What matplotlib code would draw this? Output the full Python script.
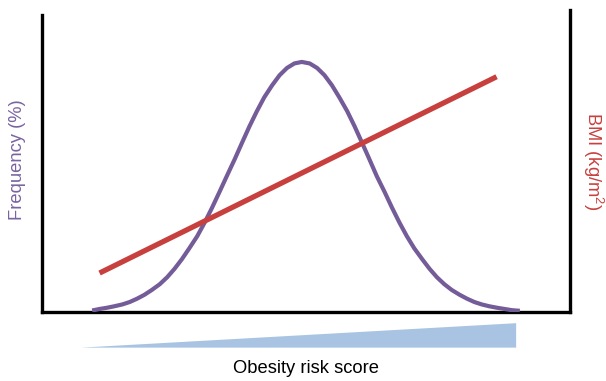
import matplotlib.pyplot as plt

plt.rcParams['font.family'] = ['Liberation Sans', 'DejaVu Sans']
plt.rcParams['mathtext.default'] = 'regular'

# distribution of the risk score (frequency, %)
score = [9.5, 10.9, 12.3, 13.7, 15.2, 16.6, 18.0, 19.4, 20.8, 22.3, 23.7, 25.1, 26.5, 27.9,
         29.4, 30.8, 32.2, 33.6, 35.0, 36.5, 37.9, 39.3, 40.7, 42.1, 43.6, 45.0, 46.4, 47.8,
         49.2, 50.7, 52.1, 53.5, 54.9, 56.3, 57.8, 59.2, 60.6, 62.0, 63.4, 64.9, 66.3, 67.7,
         69.1, 70.5, 72.0, 73.4, 74.8, 76.2, 77.6, 79.1, 80.5, 81.9, 83.3, 84.7, 86.2, 87.6,
         89.0, 90.5]
freq = [0.5, 1.0, 1.4, 1.9, 2.5, 3.3, 4.4, 5.7, 7.3, 9.2, 11.5, 14.3, 17.5, 21.1,
        25.1, 29.6, 34.5, 39.7, 45.0, 50.6, 56.1, 61.5, 66.5, 71.1, 75.1, 78.4, 80.8, 82.3,
        82.8, 82.3, 80.8, 78.4, 75.1, 71.1, 66.5, 61.5, 56.1, 50.6, 45.0, 39.7, 34.5, 29.6,
        25.1, 21.1, 17.5, 14.3, 11.5, 9.2, 7.3, 5.7, 4.4, 3.3, 2.5, 1.9, 1.4, 1.0,
        0.6, 0.4]

# BMI trend
bmi_x = [10.9, 86.1]
bmi_y = [12.9, 77.9]

# risk wedge under the axis
wedge_x = [7.4, 89.8, 89.8]
wedge_y = [-11.8, -3.7, -11.8]

purple = '#745c99'
red = '#c8403e'

fig = plt.figure(figsize=(6.06, 3.81), dpi=100)
ax = fig.add_axes([0.0693, 0.1811, 0.8713, 0.7927])
ax.set_xlim(0, 100)
ax.set_ylim(0, 100)

ax.plot(score, freq, color=purple, linewidth=3, solid_capstyle='butt',
        solid_joinstyle='round', zorder=3)

ax2 = ax.twinx()
ax2.set_ylim(0, 100)
ax2.plot(bmi_x, bmi_y, color=red, linewidth=3.8, solid_capstyle='butt', zorder=4)

ax.fill(wedge_x, wedge_y, color='#a9c4e2', clip_on=False, linewidth=0)

for a in (ax, ax2):
    a.set_xticks([])
    a.set_yticks([])
    for s in a.spines.values():
        s.set_visible(False)

ax.spines['left'].set_visible(True)
ax.spines['bottom'].set_visible(True)
ax2.spines['right'].set_visible(True)
for s in (ax.spines['left'], ax.spines['bottom'], ax2.spines['right']):
    s.set_linewidth(2.4)
    s.set_color('black')
ax.spines['left'].set_bounds(0, 98.3)

fig.text(0.029, 0.58, 'Frequency (%)', rotation=90, color='#7a64a0', fontsize=13.2,
         ha='center', va='center')
fig.text(0.979, 0.577, 'BMI (kg/m$^2$)', rotation=270, color=red, fontsize=13.2,
         ha='center', va='center')
fig.text(0.505, 0.034, 'Obesity risk score', color='black', fontsize=13.2,
         ha='center', va='center')

fig.savefig('out.png', dpi=100)
